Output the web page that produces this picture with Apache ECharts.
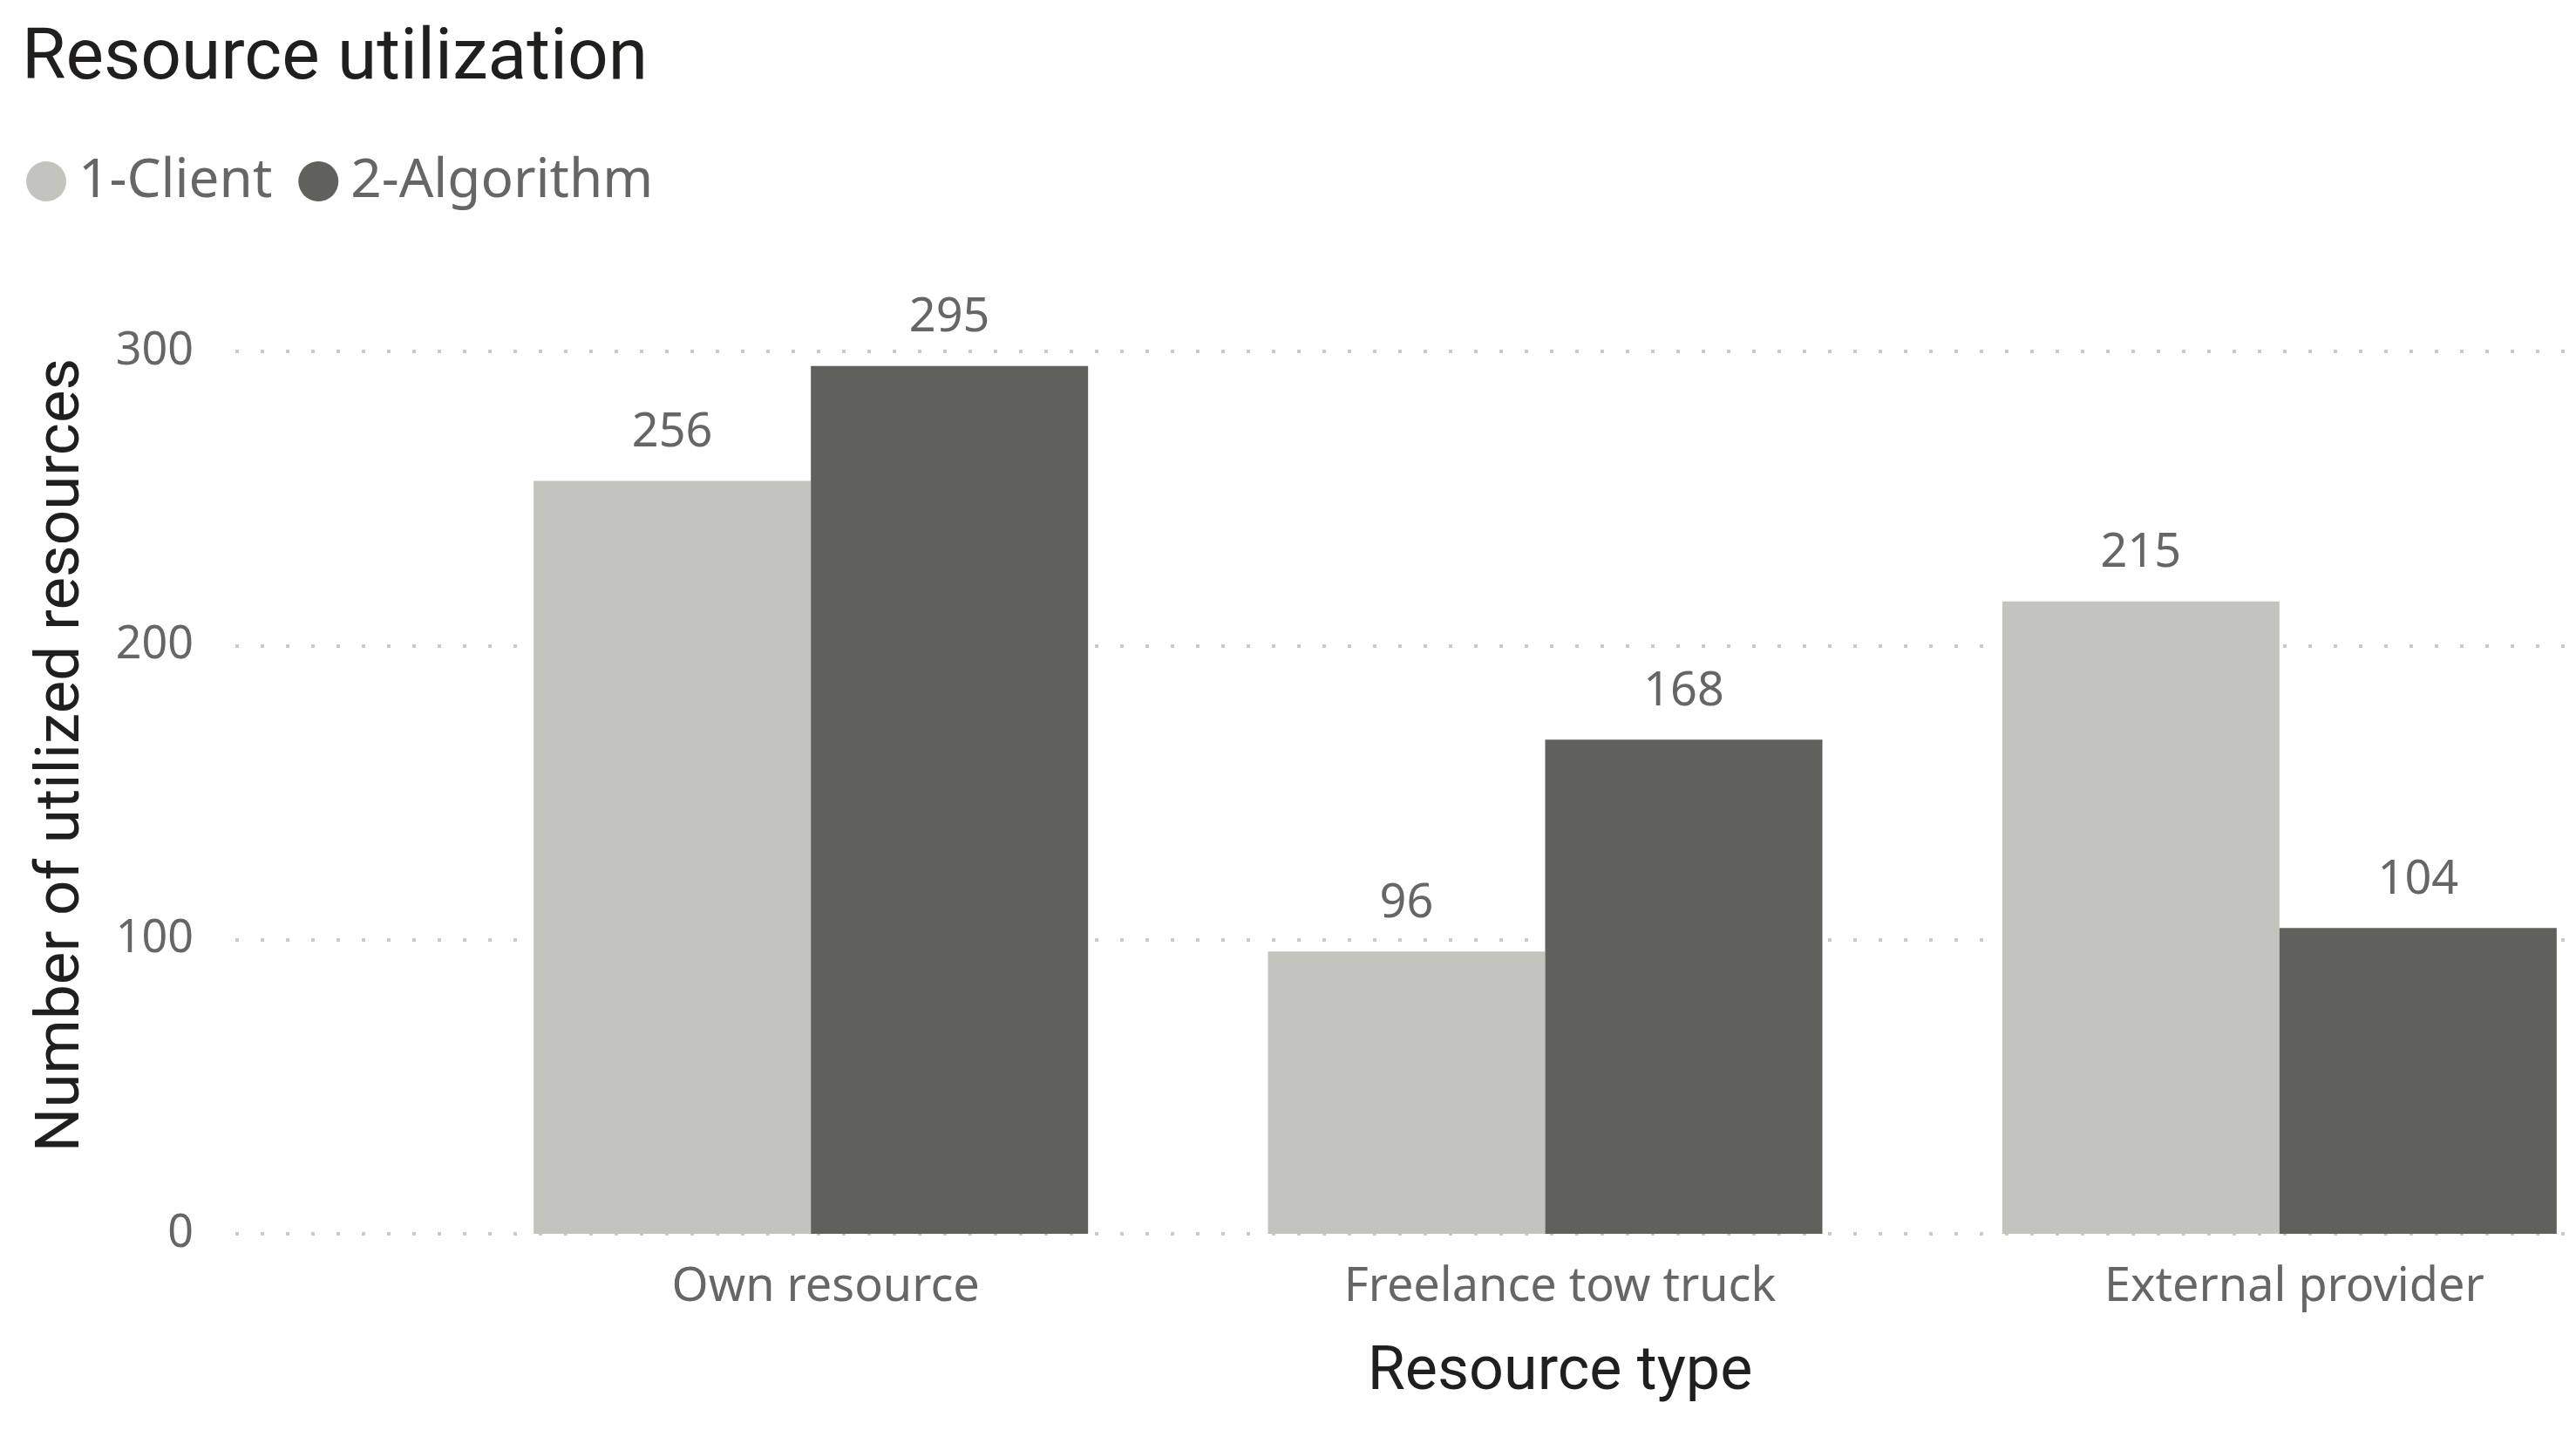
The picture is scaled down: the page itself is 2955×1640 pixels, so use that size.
<!DOCTYPE html>
<html>
<head>
<meta charset="utf-8">
<title>Resource utilization</title>
<script src="https://cdn.jsdelivr.net/npm/echarts@6/dist/echarts.min.js"></script>
<style>
  html, body { margin: 0; padding: 0; background: #fff; }
  #chart { width: 2955px; height: 1640px; }
</style>
</head>
<body>
<div id="chart"></div>
<script>
// data
const categories = ['Own resource', 'Freelance tow truck', 'External provider']
const clientValues = [256, 96, 215]
const algorithmValues = [295, 168, 104]
const seriesNames = ['1-Client', '2-Algorithm']
const yTicks = { min: 0, max: 300, interval: 100 }

const labelFont = 'Noto Sans'
const headFont = 'Roboto'
const grey = '#666666'

const chart = echarts.init(document.getElementById('chart'))

const option = {
  animation: false,
  backgroundColor: '#ffffff',
  title: {
    text: 'Resource utilization',
    left: 25,
    top: 28,
    padding: 0,
    textStyle: {
      fontFamily: headFont,
      fontWeight: 'normal',
      fontSize: 82,
      color: '#201f1e'
    }
  },
  legend: {
    data: seriesNames,
    left: 30,
    top: 177,
    padding: 0,
    icon: 'circle',
    itemWidth: 46,
    itemHeight: 46,
    itemGap: 30,
    textStyle: {
      fontFamily: labelFont,
      fontSize: 62,
      color: grey,
      padding: [0, 0, 0, 9]
    }
  },
  grid: [
    // bars (the last category runs past the right edge, as in the source)
    { left: 509, right: -81, top: 403, bottom: 225, outerBoundsMode: 'none', containLabel: false },
    // gridlines and y labels
    { left: 270, right: 11, top: 403, bottom: 225, outerBoundsMode: 'none', containLabel: false }
  ],
  xAxis: [
    {
      type: 'category',
      gridIndex: 0,
      data: categories,
      axisLine: { show: false },
      axisTick: { show: false },
      axisLabel: {
        fontFamily: labelFont,
        fontSize: 54,
        color: grey,
        margin: 35,
        padding: [0, 0, 0, 34]
      },
      name: 'Resource type',
      nameLocation: 'middle',
      nameGap: 125,
      nameTextStyle: {
        fontFamily: headFont,
        fontSize: 70,
        color: '#201f1e',
        padding: [0, 0, 0, 34]
      }
    },
    {
      type: 'value',
      gridIndex: 1,
      show: false
    }
  ],
  yAxis: [
    {
      type: 'value',
      gridIndex: 0,
      min: yTicks.min,
      max: yTicks.max,
      interval: yTicks.interval,
      show: false,
      splitLine: { show: false }
    },
    {
      type: 'value',
      gridIndex: 1,
      min: yTicks.min,
      max: yTicks.max,
      interval: yTicks.interval,
      axisLine: { show: false },
      axisTick: { show: false },
      axisLabel: {
        fontFamily: labelFont,
        fontSize: 52,
        color: grey,
        margin: 48,
        padding: [16, 0, 0, 0]
      },
      splitLine: {
        lineStyle: {
          type: [4, 25],
          width: 4,
          color: '#cacaca'
        }
      },
      name: 'Number of utilized resources',
      nameLocation: 'middle',
      nameRotate: 90,
      nameGap: 162,
      nameTextStyle: {
        fontFamily: headFont,
        fontSize: 71,
        color: '#201f1e',
        padding: [0, 0, 0, 86]
      }
    }
  ],
  series: [
    {
      name: seriesNames[0],
      type: 'bar',
      xAxisIndex: 0,
      yAxisIndex: 0,
      barWidth: 318,
      barGap: '0%',
      itemStyle: { color: '#c4c4be' },
      label: {
        show: true,
        position: 'top',
        distance: 28,
        fontFamily: labelFont,
        fontSize: 54,
        color: grey
      },
      data: clientValues
    },
    {
      name: seriesNames[1],
      type: 'bar',
      xAxisIndex: 0,
      yAxisIndex: 0,
      barWidth: 318,
      barGap: '0%',
      itemStyle: { color: '#60605c' },
      label: {
        show: true,
        position: 'top',
        distance: 28,
        fontFamily: labelFont,
        fontSize: 54,
        color: grey
      },
      data: algorithmValues
    }
  ]
}

chart.setOption(option)
window.addEventListener('resize', function () {
  chart.resize()
})
</script>
</body>
</html>
